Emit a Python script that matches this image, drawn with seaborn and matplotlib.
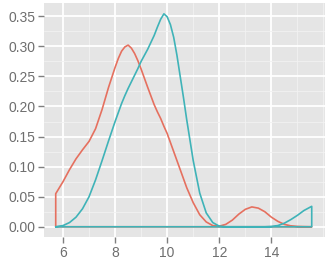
import numpy as np
import pandas as pd
import matplotlib
matplotlib.use("Agg")
import matplotlib.pyplot as plt
from matplotlib.ticker import MultipleLocator
import seaborn as sns

# density curves (shared x grid, trimmed to data range)
x_grid = [5.72, 6.0, 6.25, 6.5, 6.75, 7.0, 7.25, 7.5, 7.75, 8.0, 8.125, 8.25,
          8.375, 8.5, 8.625, 8.75, 8.875, 9.0, 9.25, 9.5, 9.625, 9.75, 9.875,
          10.0, 10.125, 10.25, 10.375, 10.5, 10.625, 10.75, 11.0, 11.25,
          11.5, 11.75, 12.0, 12.25, 12.5, 12.75, 13.0, 13.25, 13.5, 13.75,
          14.0, 14.25, 14.5, 14.75, 15.0, 15.25, 15.55]
red_density = [0.055, 0.075, 0.095, 0.113, 0.128, 0.142, 0.163, 0.195, 0.232,
               0.265, 0.28, 0.292, 0.299, 0.302, 0.297, 0.288, 0.276, 0.262,
               0.232, 0.203, 0.191, 0.18, 0.167, 0.155, 0.14, 0.125, 0.11,
               0.095, 0.08, 0.065, 0.04, 0.02, 0.008, 0.002, 0.001, 0.004,
               0.011, 0.021, 0.029, 0.033, 0.031, 0.025, 0.016, 0.009, 0.004,
               0.0015, 0.0005, 0.0002, 0.0]
teal_density = [0.0, 0.002, 0.007, 0.016, 0.03, 0.05, 0.078, 0.11, 0.143,
                0.175, 0.19, 0.205, 0.218, 0.23, 0.241, 0.252, 0.263, 0.275,
                0.295, 0.318, 0.332, 0.345, 0.354, 0.349, 0.336, 0.315, 0.285,
                0.25, 0.215, 0.178, 0.11, 0.056, 0.023, 0.007, 0.001, 0.0,
                0.0, 0.0, 0.0, 0.0, 0.0, 0.0, 0.0005, 0.002, 0.006, 0.012,
                0.019, 0.027, 0.034]
groups = ["a", "b"]
colors = ["#E5705F", "#3FB3B8"]

x_ticks = [6, 8, 10, 12, 14]
y_ticks = [0.0, 0.05, 0.10, 0.15, 0.20, 0.25, 0.30, 0.35]


def closed_outline(xs, ys, name):
    # geom_density style: curve plus the baseline back to the start
    px = [xs[0]] + list(xs) + [xs[-1], xs[0]]
    py = [0.0] + list(ys) + [0.0, 0.0]
    return pd.DataFrame({"x": px, "density": py, "group": name})


df = pd.concat([closed_outline(x_grid, red_density, groups[0]),
                closed_outline(x_grid, teal_density, groups[1])],
               ignore_index=True)

sns.set_theme(style="darkgrid", rc={
    "axes.facecolor": "#E5E5E5",
    "grid.color": "white",
    "grid.linewidth": 1.3,
})
plt.rcParams["font.family"] = ["Liberation Sans", "DejaVu Sans"]

fig = plt.figure(figsize=(3.26, 2.66), dpi=100)
ax = fig.add_axes([44 / 326, 29 / 266, 281 / 326, 234 / 266])

sns.lineplot(data=df, x="x", y="density", hue="group", palette=colors,
             sort=False, estimator=None, units="group", linewidth=1.2,
             legend=False, ax=ax)
for line in ax.lines:
    line.set_solid_joinstyle("round")

ax.set_xlim(5.27, 16.06)
ax.set_ylim(-0.017, 0.372)
ax.set_xticks(x_ticks)
ax.set_xticklabels([str(t) for t in x_ticks])
ax.set_yticks(y_ticks)
ax.set_yticklabels([f"{t:.2f}" for t in y_ticks])
ax.xaxis.set_minor_locator(MultipleLocator(1))
ax.yaxis.set_minor_locator(MultipleLocator(0.025))
ax.grid(which="minor", color="#F2F2F2", linewidth=0.6)
ax.set_axisbelow(True)
ax.set_xlabel("")
ax.set_ylabel("")
for s in ax.spines.values():
    s.set_visible(False)
ax.tick_params(which="major", length=4.3, width=1, color="#7F7F7F",
               labelcolor="#6E6E6E", labelsize=10, pad=2,
               bottom=True, left=True)
ax.tick_params(which="minor", length=0)

fig.savefig("out.png", dpi=100)
